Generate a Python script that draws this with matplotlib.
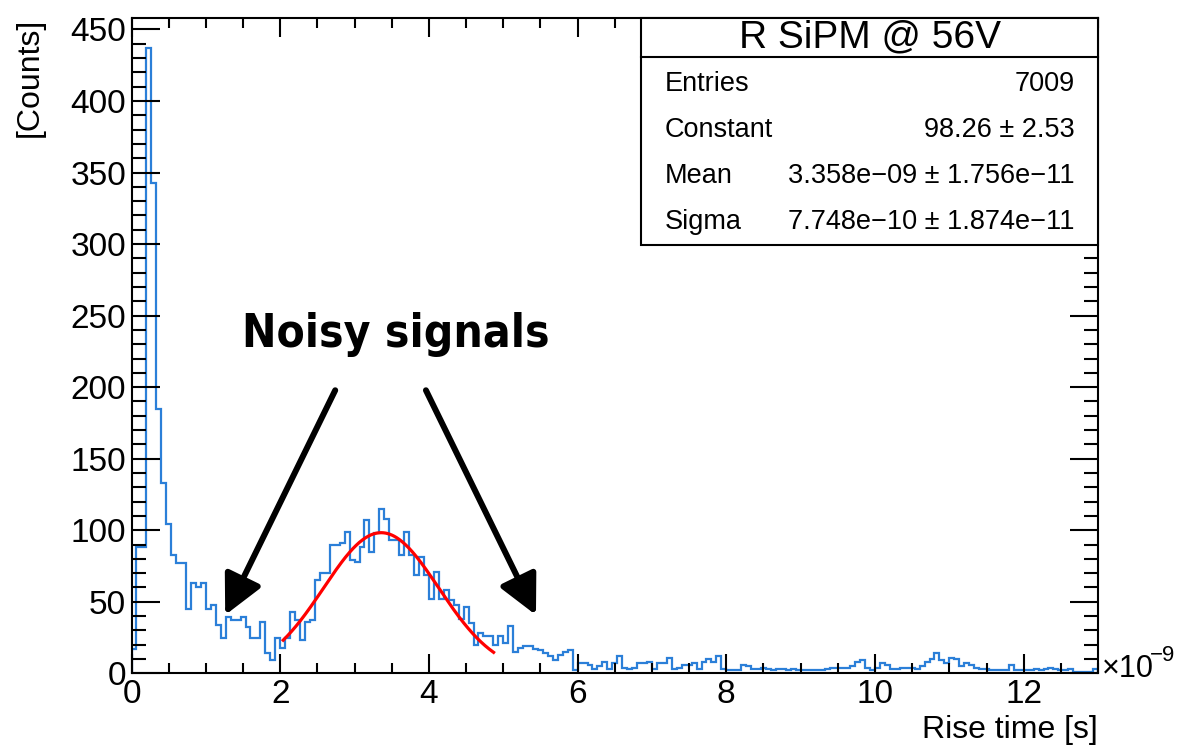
import numpy as np
import matplotlib.pyplot as plt
from matplotlib import font_manager
from matplotlib.ticker import MultipleLocator
from matplotlib.patches import Rectangle
from matplotlib.lines import Line2D

# rise time histogram, 195 bins from 0 to 13 ns (axis shown x1e-9 s)
x_min = 0.0
x_max = 13.0
counts = [17, 88, 88, 437, 343, 185, 133, 104, 83, 77, 77,
          45, 63, 60, 63, 45, 48, 34, 25, 39, 37,
          37, 39, 32, 25, 25, 36, 14, 9, 25, 18,
          25, 43, 37, 23, 36, 37, 65, 70, 70, 90,
          90, 91, 99, 79, 78, 88, 107, 85, 98, 115,
          108, 93, 93, 83, 99, 83, 69, 81, 69, 52,
          71, 52, 58, 51, 48, 38, 46, 35, 20, 28,
          26, 26, 20, 26, 21, 33, 15, 18, 19, 19,
          17, 16, 14, 12, 9, 13, 15, 16, 2, 7,
          7, 6, 3, 5, 8, 3, 7, 12, 4, 3,
          4, 7, 7, 8, 3, 7, 7, 11, 3, 4,
          6, 6, 7, 3, 8, 10, 8, 12, 3, 2,
          2, 2, 6, 5, 3, 3, 4, 3, 2, 3,
          3, 2, 3, 2, 2, 2, 2, 2, 2, 3,
          4, 4, 4, 4, 5, 8, 9, 4, 2, 4,
          7, 6, 3, 3, 4, 4, 4, 3, 5, 8,
          10, 14, 9, 7, 11, 10, 5, 7, 6, 4,
          3, 3, 2, 2, 2, 2, 6, 2, 2, 2,
          2, 3, 2, 3, 4, 3, 2, 2, 3, 1,
          1, 1, 1, 3]
edges = np.linspace(x_min, x_max, len(counts) + 1)

# gaussian fit parameters (ns)
fit_const = 98.26
fit_mean = 3.358
fit_sigma = 0.7748
fit_lo = 2.04
fit_hi = 4.87

stats_title = 'R SiPM @ 56V'
stats_names = ['Entries', 'Constant', 'Mean', 'Sigma']
stats_values = ['7009', '98.26 ± 2.53', '3.358e−09 ± 1.756e−11', '7.748e−10 ± 1.874e−11']

plt.rcParams['font.family'] = ['Liberation Sans', 'DejaVu Sans']

# look for a condensed bold face for the big annotation
narrow = None
for f in font_manager.fontManager.ttflist:
    if ('Condensed' in f.name or 'Narrow' in f.name or f.stretch in ('condensed', 'semi-condensed')) \
            and f.weight in (700, 'bold') and f.style == 'normal':
        narrow = f.fname
        break
if narrow:
    note_font = font_manager.FontProperties(fname=narrow, size=33)
else:
    note_font = font_manager.FontProperties(family='Liberation Sans', weight='bold', size=31)

fig = plt.figure(figsize=(11.89, 7.49), dpi=100)
ax = fig.add_axes([0.1106, 0.1011, 0.8129, 0.8749])

ax.stairs(counts, edges, color='#2b7fd8', lw=1.6)
xf = np.linspace(fit_lo, fit_hi, 200)
ax.plot(xf, fit_const * np.exp(-0.5 * ((xf - fit_mean) / fit_sigma) ** 2), color='red', lw=2.3)

ax.set_xlim(x_min, x_max)
ax.set_ylim(0, 458)
ax.xaxis.set_major_locator(MultipleLocator(2))
ax.xaxis.set_minor_locator(MultipleLocator(0.5))
ax.yaxis.set_major_locator(MultipleLocator(50))
ax.yaxis.set_minor_locator(MultipleLocator(10))
ax.tick_params(which='both', direction='in', top=True, right=True, width=1.5, labelsize=24)
ax.tick_params(axis='x', which='major', length=14, pad=4)
ax.tick_params(axis='x', which='minor', length=7)
ax.tick_params(axis='y', which='major', length=20, pad=4)
ax.tick_params(axis='y', which='minor', length=10)
for s in ax.spines.values():
    s.set_linewidth(1.5)

fig.text(0.9235, 0.006, 'Rise time [s]', ha='right', va='bottom', size=23)
fig.text(0.025, 0.976, '[Counts]', rotation=90, ha='center', va='top', size=23)
fig.text(0.927, 0.096, '×10', ha='left', va='baseline', size=22)
fig.text(0.967, 0.118, '−9', ha='left', va='baseline', size=16)

# stats box
fig.add_artist(Rectangle((0.5391, 0.6729), 0.9235 - 0.5391, 0.976 - 0.6729,
                         transform=fig.transFigure, facecolor='white',
                         edgecolor='black', lw=1.5, zorder=5))
fig.add_artist(Line2D([0.5391, 0.9235], [0.9239, 0.9239], transform=fig.transFigure,
                      color='black', lw=1.5, zorder=6))
fig.text(0.7313, 0.9506, stats_title, ha='center', va='center', size=28, zorder=7)
row_y = [0.8879, 0.8264, 0.7650, 0.7036]
for yy, name, val in zip(row_y, stats_names, stats_values):
    fig.text(0.5593, yy, name, ha='left', va='center', size=19.5, zorder=7)
    fig.text(0.9041, yy, val, ha='right', va='center', size=19.5, zorder=7)

# annotation
ax.text(3.56, 237, 'Noisy signals', ha='center', va='center', fontproperties=note_font)
arrow = dict(arrowstyle='-|>,head_length=0.6,head_width=0.3', lw=4.3, color='black',
             mutation_scale=40, shrinkA=0, shrinkB=0)
ax.annotate('', xy=(1.26, 40.7), xytext=(2.74, 197.8), arrowprops=arrow)
ax.annotate('', xy=(5.44, 40.7), xytext=(3.96, 197.8), arrowprops=arrow)

fig.savefig('out.png', dpi=100)
